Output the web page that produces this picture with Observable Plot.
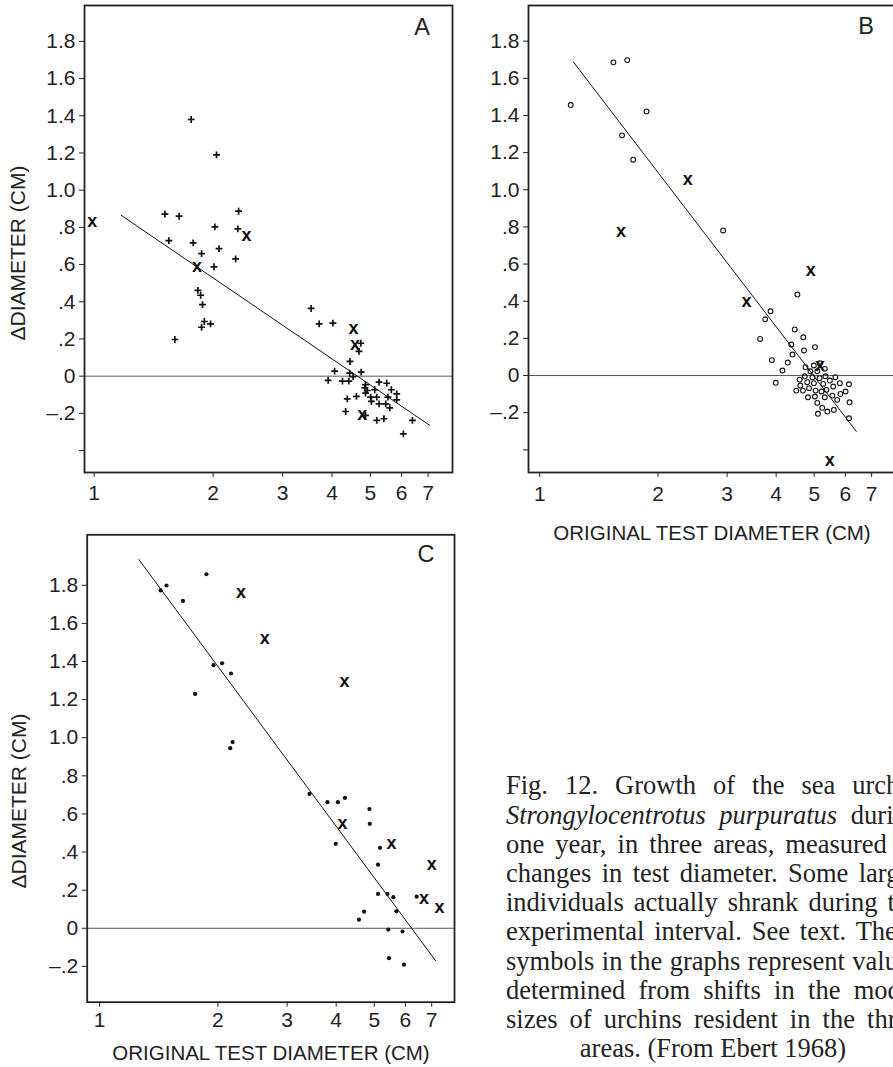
<!DOCTYPE html>
<html><head><meta charset="utf-8">
<script src="https://cdn.jsdelivr.net/npm/d3@7"></script>
<script src="https://cdn.jsdelivr.net/npm/@observablehq/plot@0.6"></script>
<style>
html,body{margin:0;padding:0;background:#fff;overflow:hidden;width:893px;height:1067px;}
#root{position:relative;width:893px;height:1067px;overflow:hidden;background:#fff;}
.panel{position:absolute;}
.lab{position:absolute;font-family:"Liberation Sans",Arial,sans-serif;color:#222;white-space:nowrap;line-height:1;transform:translate(-50%,-50%);}
.ylab{transform:translate(-50%,-50%) rotate(-90deg);}
.cap{position:absolute;left:506px;width:414px;font-family:"Liberation Serif","Times New Roman",serif;font-size:26.5px;line-height:29.2px;height:29.2px;color:#222;text-align:justify;text-align-last:justify;}
.cap.last{text-align:center;text-align-last:center;}
</style>
</head><body><div id="root"></div>
<script>
// ---------- data ----------
const xTicks = [1, 2, 3, 4, 5, 6, 7];
const yTicksAB = [-0.4, -0.2, 0, 0.2, 0.4, 0.6, 0.8, 1.0, 1.2, 1.4, 1.6, 1.8];
const yTicksC = [-0.2, 0, 0.2, 0.4, 0.6, 0.8, 1.0, 1.2, 1.4, 1.6, 1.8];

// Panel A: "+" individuals [original diameter, delta diameter]
const plusA = [[1.76,1.38],[2.04,1.19],[1.51,0.871],[1.64,0.86],[1.545,0.729],[1.78,0.717],[2.32,0.887],[2.02,0.803],[2.31,0.792],[1.87,0.659],[2.07,0.686],[2.01,0.588],[2.28,0.631],[1.83,0.461],[1.86,0.435],[1.88,0.385],[1.90,0.294],[1.97,0.281],[1.87,0.263],[1.60,0.197],[3.54,0.364],[3.71,0.281],[4.02,0.285],[4.44,0.079],[4.73,0.177],[4.68,0.133],[4.06,0.027],[3.91,-0.023],[4.25,-0.027],[4.41,-0.027],[4.43,0.016],[4.52,-0.002],[4.74,0.022],[4.37,-0.122],[4.61,-0.109],[4.33,-0.19],[5.26,-0.032],[5.50,-0.038],[4.86,-0.045],[4.84,-0.063],[4.91,-0.077],[5.13,-0.073],[5.65,-0.073],[4.86,-0.091],[5.83,-0.095],[5.01,-0.113],[5.19,-0.113],[5.54,-0.113],[5.03,-0.136],[5.26,-0.149],[5.47,-0.149],[5.83,-0.127],[5.60,-0.17],[5.19,-0.238],[5.41,-0.229],[6.39,-0.238],[6.06,-0.31],[4.86,-0.211]];
const modeA = [[0.988,0.828],[1.82,0.586],[2.43,0.753],[4.53,0.254],[4.57,0.165],[4.77,-0.211]];
const fitA = [[1.17,0.865],[7.07,-0.265]];

// Panel B: open circles
const circB = [[1.199,1.456],[1.54,1.686],[1.67,1.698],[1.87,1.422],[1.62,1.293],[1.73,1.162],[2.93,0.781],[3.87,0.346],[3.75,0.303],[3.64,0.197],[4.53,0.436],[4.46,0.248],[4.69,0.206],[4.37,0.167],[4.71,0.135],[5.02,0.153],[4.40,0.113],[3.90,0.083],[4.28,0.070],[4.15,0.027],[3.99,-0.039],[4.75,0.045],[4.99,0.054],[5.17,0.066],[5.32,0.036],[4.89,0.023],[5.09,0.023],[4.73,-0.004],[4.95,-0.009],[5.16,-0.014],[5.34,-0.004],[5.66,-0.009],[4.59,-0.022],[4.80,-0.036],[4.99,-0.041],[5.27,-0.045],[5.48,-0.027],[5.81,-0.041],[6.13,-0.047],[4.61,-0.054],[5.59,-0.059],[4.50,-0.081],[4.68,-0.081],[4.85,-0.068],[5.04,-0.081],[5.22,-0.086],[5.37,-0.077],[6.01,-0.086],[5.83,-0.099],[4.82,-0.117],[5.02,-0.113],[5.32,-0.117],[5.56,-0.108],[5.72,-0.131],[6.15,-0.144],[5.09,-0.147],[5.24,-0.174],[5.40,-0.194],[5.61,-0.185],[5.11,-0.206],[6.13,-0.23]];
const modeB = [[1.61,0.772],[2.38,1.054],[3.36,0.395],[4.90,0.562],[5.17,0.048],[5.48,-0.463]];
const fitB = [[1.218,1.688],[6.40,-0.301]];

// Panel C: filled dots
const dotC = [[1.43,1.773],[1.48,1.799],[1.63,1.718],[1.87,1.858],[1.75,1.23],[1.95,1.381],[2.05,1.391],[2.16,1.337],[2.18,0.977],[2.15,0.945],[3.42,0.705],[3.80,0.662],[4.04,0.662],[4.21,0.684],[4.86,0.626],[4.87,0.548],[3.99,0.443],[5.17,0.422],[5.11,0.334],[5.11,0.18],[5.40,0.18],[5.59,0.163],[4.71,0.087],[4.57,0.045],[5.69,0.089],[5.43,-0.007],[5.90,-0.017],[5.45,-0.157],[5.95,-0.191],[6.41,0.166]];
const modeC = [[2.29,1.759],[2.63,1.519],[4.20,1.293],[4.15,0.544],[5.53,0.443],[7.00,0.332],[6.69,0.154],[7.33,0.107]];
const fitC = [[1.259,1.935],[7.16,-0.17]];

const yLabel = "\u0394DIAMETER (CM)";
const xLabel = "ORIGINAL TEST DIAMETER (CM)";
const captionLines = [
  "Fig. 12. Growth of the sea urchin",
  "<i>Strongylocentrotus purpuratus</i> during",
  "one year, in three areas, measured as",
  "changes in test diameter. Some larger",
  "individuals actually shrank during the",
  "experimental interval. See text. The x",
  "symbols in the graphs represent values",
  "determined from shifts in the modal",
  "sizes of urchins resident in the three",
  "areas. (From Ebert 1968)"
];

// ---------- drawing ----------
const toObj = arr => arr.map(([x, y]) => ({x, y}));
function fmtY(d) {
  if (Math.abs(d + 0.4) < 1e-9) return "";
  if (Math.abs(d) < 1e-9) return "0";
  let s = Math.abs(d).toFixed(1);
  if (Math.abs(d) < 1) s = s.slice(1);
  return (d < 0 ? "\u2013" : "") + s;
}
const root = document.getElementById("root");

function panel(o) {
  const marks = [
    Plot.ruleY([0], {stroke: "#555", strokeWidth: 1}),
    Plot.line(toObj(o.fit), {x: "x", y: "y", stroke: "#111", strokeWidth: 1})
  ];
  if (o.plus) marks.push(Plot.dot(toObj(o.plus), {x: "x", y: "y", symbol: "plus", r: 2.35, stroke: "#111", strokeWidth: 1.7}));
  if (o.circ) marks.push(Plot.dot(toObj(o.circ), {x: "x", y: "y", symbol: "circle", r: 2.4, stroke: "#111", strokeWidth: 1.1, fill: "none"}));
  if (o.dot) marks.push(Plot.dot(toObj(o.dot), {x: "x", y: "y", r: 2.1, fill: "#111", stroke: "none"}));
  marks.push(Plot.text(toObj(o.mode), {x: "x", y: "y", text: () => "x", fontSize: 18, fontWeight: "bold", fill: "#111", dy: -1}));
  marks.push(Plot.frame({stroke: "#222", strokeWidth: 1.8}));
  const svg = Plot.plot({
    width: o.width, height: o.height,
    marginLeft: o.mL, marginRight: o.mR, marginTop: o.mT, marginBottom: o.mB,
    style: {fontFamily: "'Liberation Sans', Arial, sans-serif", fontSize: "21px", color: "#222", background: "transparent", maxWidth: "none", overflow: "visible"},
    x: {type: "log", domain: o.xDom, ticks: xTicks, tickFormat: d => String(d), tickSize: 5, tickPadding: o.xPad, label: null},
    y: {domain: o.yDom, ticks: o.yTicks, tickFormat: fmtY, tickSize: 5, tickPadding: 4, label: null},
    marks
  });
  const div = document.createElement("div");
  div.className = "panel";
  div.style.left = o.left + "px";
  div.style.top = o.top + "px";
  div.appendChild(svg);
  root.appendChild(div);
}

function label(text, x, y, size, cls) {
  const d = document.createElement("div");
  d.className = "lab" + (cls ? " " + cls : "");
  d.style.left = x + "px"; d.style.top = y + "px";
  d.style.fontSize = size + "px";
  d.textContent = text;
  root.appendChild(d);
}

panel({left: 0, top: 0, width: 460, height: 510, mL: 84, mR: 8, mT: 5, mB: 38,
  xDom: [0.945, 8.07], yDom: [-0.518, 1.993], yTicks: yTicksAB, xPad: 8,
  plus: plusA, mode: modeA, fit: fitA});
panel({left: 440, top: 0, width: 470, height: 510, mL: 88, mR: 14, mT: 5, mB: 38,
  xDom: [0.936, 8.1], yDom: [-0.522, 1.992], yTicks: yTicksAB, xPad: 9,
  circ: circB, mode: modeB, fit: fitB});
panel({left: 0, top: 500, width: 460, height: 530, mL: 86.7, mR: 6, mT: 34.3, mB: 28.3,
  xDom: [0.930, 8.0], yDom: [-0.388, 2.065], yTicks: yTicksC, xPad: 5,
  dot: dotC, mode: modeC, fit: fitC});

label("A", 422, 28, 23.5);
label("B", 866, 27, 23.5);
label("C", 426, 555, 23.5);
label(yLabel, 17, 253, 21, "ylab");
label(yLabel, 18, 801, 21, "ylab");
label(xLabel, 712, 533, 20.5);
label(xLabel, 271, 1053, 20.5);

captionLines.forEach((t, i) => {
  const d = document.createElement("div");
  d.className = "cap" + (i === captionLines.length - 1 ? " last" : "");
  d.style.top = (771.4 + i * 29.2) + "px";
  d.innerHTML = t;
  root.appendChild(d);
});
</script>
</body></html>
